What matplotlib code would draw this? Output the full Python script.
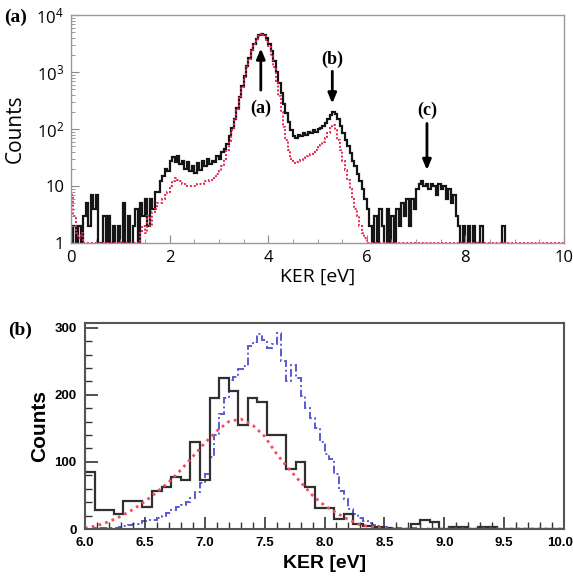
import numpy as np
import matplotlib
matplotlib.use("Agg")
import matplotlib.pyplot as plt
import matplotlib.transforms as mtransforms
from matplotlib.ticker import FixedLocator, MultipleLocator, FuncFormatter, LogLocator, NullFormatter

plt.rcParams['mathtext.default'] = 'regular'

# ---------------- Panel (a): KER spectrum, log scale ----------------
top_bin_width = 0.05
top_edges = np.round(np.arange(0, 10.0 + 1e-9, top_bin_width), 2)

top_black = [
    1, 2, 1, 2, 1, 3, 5, 2, 7, 4,            # 0.00-0.45
    7, 1, 0, 3, 1, 3, 0, 2, 0, 2,            # 0.50-0.95
    1, 5, 1, 3, 0, 2, 4, 1, 5, 3,            # 1.00-1.45
    6, 2, 6, 4, 8, 8, 12, 15, 20, 18,        # 1.50-1.95
    28, 32, 26, 34, 24, 28, 20, 26, 18, 22,  # 2.00-2.45
    17, 25, 19, 27, 22, 30, 24, 28, 26, 33,  # 2.50-2.95
    30, 40, 45, 55, 75, 105, 150, 230, 360, 560,          # 3.00-3.45
    850, 1250, 1750, 2400, 3100, 3800, 4400, 4700, 4500, 3900,  # 3.50-3.95
    3100, 2300, 1550, 1000, 650, 420, 280, 190, 135, 95,  # 4.00-4.45
    75, 70, 80, 75, 85, 80, 90, 85, 95, 90,  # 4.50-4.95
    100, 105, 115, 130, 150, 175, 195, 185, 150, 115,     # 5.00-5.45
    85, 65, 50, 38, 28, 22, 16, 12, 9, 6,    # 5.50-5.95
    4, 2, 0, 3, 1, 4, 2, 0, 4, 1,            # 6.00-6.45
    3, 0, 4, 2, 5, 3, 6, 2, 6, 4,            # 6.50-6.95
    9, 11, 12, 10, 11, 9, 11, 10, 7, 11,     # 7.00-7.45
    9, 10, 6, 9, 5, 7, 3, 2, 1, 2,           # 7.50-7.95
    0, 2, 0, 2, 1, 0, 2, 0, 0, 0,            # 8.00-8.45
    0, 0, 0, 0, 0, 2, 0, 0, 0, 0,            # 8.50-8.95
    0, 0, 0, 0, 0, 0, 0, 0, 0, 0,            # 9.00-9.45
    0, 0, 0, 0, 0, 0, 0, 0, 0, 0,            # 9.50-9.95
]

top_red = [
    7, 3, 1.5, 1.2, 1.5, 1, 1, 1, 1, 1,
    1, 1, 1, 1, 1, 1, 1, 1, 1, 1,
    1, 1, 1, 1, 1, 1, 1, 1, 1.5, 2,
    1.5, 3, 2, 3.5, 4, 5, 5, 6, 7, 8,
    10, 12, 14, 13, 12, 11, 11, 10, 10, 10,
    10, 11, 11, 11, 12, 12, 13, 13, 14, 16,
    18, 22, 30, 42, 62, 95, 145, 225, 350, 540,
    820, 1200, 1700, 2350, 3050, 3750, 4350, 4650, 4400, 3700,
    2800, 1900, 1200, 700, 380, 200, 110, 65, 42, 30,
    25, 26, 27, 29, 31, 33, 35, 37, 40, 43,
    48, 53, 60, 70, 85, 105, 118, 95, 65, 42,
    28, 19, 13, 9, 6, 4, 3, 2, 1.5, 1.2,
] + [1] * 80

# ---------------- Panel (b): zoom on peak (c), linear scale ----------------
bot_black_width = 0.08
bot_black_edges = np.round(6.0 + np.arange(51) * bot_black_width, 2)
bot_black = [85, 28, 28, 22, 42, 42, 33, 57, 63, 78,
             73, 130, 73, 195, 225, 205, 155, 195, 190, 140,
             140, 90, 100, 63, 31, 31, 15, 23, 8, 5,
             3, 1, 0, 0, 8, 13, 10, 0, 3, 3,
             0, 3, 3, 0, 0, 0, 0, 0, 0, 0]

bot_blue_width = 0.04
bot_blue_edges = np.round(6.0 + np.arange(101) * bot_blue_width, 2)
bot_blue = [0, 0, 1, 1, 1, 2, 2, 3, 4, 6,
            8, 7, 12, 13, 14, 17, 19, 24, 28, 33,
            36, 40, 46, 55, 68, 82, 108, 140, 172, 195,
            222, 226, 238, 243, 272, 278, 290, 282, 270, 276,
            292, 250, 220, 245, 225, 198, 180, 165, 150, 130,
            112, 105, 82, 56, 45, 30, 22, 17, 12, 9,
            6, 5, 3, 2, 1, 1, 0, 0, 1, 0] + [0] * 30

bot_red_x = np.round(np.arange(6.0, 10.0001, 0.1), 1)
bot_red = [1, 5, 11, 19, 29, 41, 55, 70, 88, 108,
           128, 146, 160, 164, 155, 138, 112, 90, 70, 50,
           35, 24, 14, 6, 3, 1, 0] + [0] * 14

top_xticks = [0, 2, 4, 6, 8, 10]
top_yticks = [1, 10, 100, 1000, 10000]
bot_xticks = [6.0, 6.5, 7.0, 7.5, 8.0, 8.5, 9.0, 9.5, 10.0]
bot_yticks = [0, 100, 200, 300]

# ---------------- figure ----------------
fig = plt.figure(figsize=(5.73, 5.85), dpi=100)
sans = 'Open Sans'
serif = 'Liberation Serif'
helv = 'Liberation Sans'

ax1 = fig.add_axes([71 / 573, 1 - 243 / 585, 493 / 573, 228 / 585])
ax1.set_yscale('log', nonpositive='clip')
ax1.stairs(top_black, top_edges, baseline=None, color='#151515', lw=1.6)
ax1.stairs(top_red, top_edges, baseline=None, color='#e4264f', lw=1.4, ls=(0, (1, 1)))
ax1.set_xlim(0, 10)
ax1.set_ylim(1, 10000)
ax1.xaxis.set_major_locator(FixedLocator(top_xticks))
ax1.xaxis.set_minor_locator(MultipleLocator(0.5))
ax1.yaxis.set_major_locator(FixedLocator(top_yticks))
ax1.yaxis.set_minor_locator(LogLocator(base=10, subs=np.arange(2, 10)))
ax1.yaxis.set_minor_formatter(NullFormatter())


def logfmt(v, pos):
    if v == 1:
        return '1'
    if v == 10:
        return '10'
    return r'$10^{%d}$' % int(round(np.log10(v)))


ax1.yaxis.set_major_formatter(FuncFormatter(logfmt))
ax1.tick_params(which='both', direction='in', color='#888888')
ax1.tick_params(which='major', length=6, width=0.8, labelsize=12, pad=5)
ax1.tick_params(which='minor', length=3, width=0.6)
for lab in ax1.get_xticklabels() + ax1.get_yticklabels():
    lab.set_family(sans)
for s in ax1.spines.values():
    s.set_color('#999999')
    s.set_linewidth(1.0)
ax1.set_xlabel('KER [eV]', family=sans, fontsize=14, labelpad=1)
ax1.set_ylabel('Counts', family=sans, fontsize=15, labelpad=8)

# annotations
ax1.annotate('', xy=(3.85, 2900), xytext=(3.85, 430),
             arrowprops=dict(arrowstyle='-|>,head_length=0.6,head_width=0.25', lw=2, color='k'))
ax1.text(3.85, 235, '(a)', family=serif, weight='bold', fontsize=13, ha='center', va='center')
ax1.annotate('', xy=(5.3, 250), xytext=(5.3, 1150),
             arrowprops=dict(arrowstyle='-|>,head_length=0.6,head_width=0.25', lw=2, color='k'))
ax1.text(5.3, 1650, '(b)', family=serif, weight='bold', fontsize=13, ha='center', va='center')
ax1.annotate('', xy=(7.22, 17), xytext=(7.22, 140),
             arrowprops=dict(arrowstyle='-|>,head_length=0.6,head_width=0.25', lw=2, color='k'))
ax1.text(7.22, 215, '(c)', family=serif, weight='bold', fontsize=13, ha='center', va='center')

fig.text(4 / 573, 1 - 17 / 585, '(a)', family=serif, weight='bold', fontsize=14, ha='left', va='center')

# ---------------- bottom panel ----------------
ax2 = fig.add_axes([85 / 573, 1 - 529 / 585, 479 / 573, 206 / 585])
ax2.stairs(bot_blue, bot_blue_edges, baseline=None, color='#5a5ad0', lw=1.4, ls=(0, (4, 1.5, 1, 1.5)))
ax2.plot(bot_red_x, bot_red, color='#f2505e', lw=2.0, ls=(0, (1, 1.5)))
ax2.stairs(bot_black, bot_black_edges, baseline=None, color='#303030', lw=1.6)
ax2.set_xlim(6.0, 10.0)
ax2.set_ylim(0, 307)
ax2.xaxis.set_major_locator(FixedLocator(bot_xticks))
ax2.xaxis.set_minor_locator(MultipleLocator(0.1))
ax2.yaxis.set_major_locator(FixedLocator(bot_yticks))
ax2.yaxis.set_minor_locator(MultipleLocator(20))
ax2.xaxis.set_major_formatter(FuncFormatter(lambda v, p: '%.1f' % v))
ax2.tick_params(which='both', direction='in', color='#333333')
ax2.tick_params(which='major', length=9, width=1.2, labelsize=9.5, pad=6)
ax2.tick_params(which='minor', length=5, width=1.0)
for lab in ax2.get_xticklabels() + ax2.get_yticklabels():
    lab.set_family(helv)
    lab.set_weight('bold')
# nudge the last x label so that it stays inside the figure
last = ax2.get_xticklabels()[-1]
last.set_transform(last.get_transform() +
                   mtransforms.ScaledTranslation(-4 / 100, 0, fig.dpi_scale_trans))
for s in ax2.spines.values():
    s.set_color('#555555')
    s.set_linewidth(1.5)
ax2.set_xlabel('KER [eV]', family=helv, weight='bold', fontsize=14, labelpad=4)
ax2.set_ylabel('Counts', family=helv, weight='bold', fontsize=15, labelpad=4)

fig.text(8 / 573, 1 - 330 / 585, '(b)', family=serif, weight='bold', fontsize=14, ha='left', va='center')

fig.savefig('out.png', dpi=100)
